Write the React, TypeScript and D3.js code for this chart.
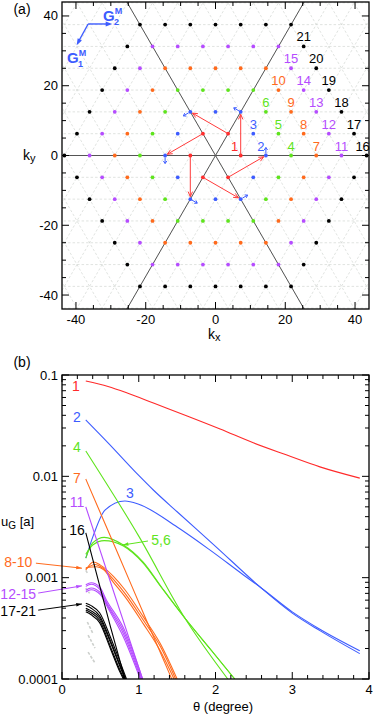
import * as d3 from 'd3'

const FONT = "'Liberation Sans', Arial, Helvetica, sans-serif"

/* panel (a): reciprocal lattice */
const LATTICE_A = 7.22
const RING_COLORS = ["#ff2a2a", "#3d5cff", "#5ee41c", "#ff6a1c", "#b54cff", "#000000"]
const K_MAJOR = [-40, -20, 0, 20, 40]
// [n, m, label, dx] in lattice units, x = (n + m/2) a, y = m a sqrt(3)/2
const POINT_LABELS: [number, number, string, number][] = [
  [1, 0, "1", -6], [2, 0, "2", -5], [1, 1, "3", 0], [3, 0, "4", 0], [2, 1, "5", 0], [1, 2, "6", 0],
  [4, 0, "7", 0], [3, 1, "8", 0], [2, 2, "9", 0], [1, 3, "10", 0], [5, 0, "11", 0], [4, 1, "12", 0],
  [3, 2, "13", 0], [2, 3, "14", 0], [1, 4, "15", 0], [6, 0, "16", -4], [5, 1, "17", 0], [4, 2, "18", 0],
  [3, 3, "19", 0], [2, 4, "20", 0], [1, 5, "21", 0],
]
// red arrows: from lattice point (n1,m1) to (n2,m2)
const RED_ARROWS = [
  [1, 0, 0, 2], [0, 1, -2, 2], [-1, 1, -2, 0], [-1, 0, 0, -2], [0, -1, 2, -2], [1, -1, 2, 0],
]
// small blue arrows at lattice point (n,m) with direction in degrees
const BLUE_ARROWS = [
  [2, 0, 90], [0, 2, 150], [-2, 2, 210], [-2, 0, 270], [0, -2, 330], [2, -2, 30],
]
const G_ORIGIN = [-36.5, 37.7]
const G2_TIP = [-29.6, 37.7]
const G1_TIP = [-39.8, 31.6]

/* panel (b): u_G vs theta */
const THETA_MAJOR = [0, 1, 2, 3, 4]
const U_MAJOR = [0.1, 0.01, 0.001, 0.0001]
const U_LABELS = ["0.1", "0.01", "0.001", "0.0001"]

const U1 = [[0.31, 0.0873], [0.6, 0.077], [0.85, 0.0664], [1.2, 0.0525], [1.63, 0.0394], [2.06, 0.0293], [2.5, 0.0213], [2.93, 0.0162], [3.36, 0.0124], [3.88, 0.0096]]
const U2 = [[0.31, 0.036], [0.6, 0.0214], [1.0, 0.0102], [1.19, 0.00733], [1.5, 0.00447], [2.0, 0.00204], [2.58, 0.00081], [3.0, 0.000447], [3.36, 0.0003], [3.88, 0.000178]]
const U3 = [[0.31, 0.00156], [0.41, 0.00263], [0.56, 0.00464], [0.82, 0.0057], [1.0, 0.0053], [1.5, 0.00316], [1.93, 0.00187], [2.36, 0.00107], [2.58, 0.00081], [3.0, 0.00046], [3.36, 0.00031], [3.88, 0.00019]]
const U4 = [[0.31, 0.0178], [1.0, 0.00257], [1.6, 0.0004], [2.16, 0.0001]]
const U5 = [[0.31, 0.00156], [0.4, 0.0022], [0.55, 0.0025], [0.8, 0.0021], [1.055, 0.00143], [1.3, 0.0008], [1.6, 0.0004], [1.95, 0.00019], [2.25, 0.0001]]
const U6 = [[0.31, 0.0017], [0.4, 0.0021], [0.55, 0.00232], [0.8, 0.00205], [1.055, 0.0014], [1.3, 0.00079], [1.6, 0.0004], [1.95, 0.00019], [2.25, 0.0001]]
const U7 = [[0.31, 0.0094], [0.7, 0.00194], [1.1, 0.00038], [1.43, 0.0001]]
const U8 = [[0.31, 0.00119], [0.41, 0.00143], [0.5, 0.00133], [0.67, 0.00103], [0.82, 0.00076], [1.06, 0.00041], [1.28, 0.000224], [1.5, 0.0001]]
const U9 = [[0.31, 0.00122], [0.43, 0.00135], [0.52, 0.00126], [0.67, 0.00096], [0.82, 0.0007], [1.06, 0.00038], [1.28, 0.00021], [1.48, 0.0001]]
const U10 = [[0.31, 0.00125], [0.45, 0.00128], [0.54, 0.0012], [0.67, 0.0009], [0.82, 0.00065], [1.06, 0.00035], [1.28, 0.00019], [1.46, 0.0001]]
const U11 = [[0.31, 0.005], [0.7, 0.00063], [1.05, 0.0001]]
const U12 = [[0.31, 0.00085], [0.38, 0.00089], [0.49, 0.00081], [0.58, 0.0006], [0.8, 0.00032], [1.05, 0.0001]]
const U13 = [[0.31, 0.00082], [0.38, 0.00086], [0.49, 0.00077], [0.58, 0.00057], [0.8, 0.0003], [1.04, 0.0001]]
const U14 = [[0.31, 0.00075], [0.38, 0.00079], [0.5, 0.00071], [0.6, 0.00052], [0.8, 0.00028], [1.03, 0.0001]]
const U15 = [[0.31, 0.00072], [0.38, 0.00076], [0.5, 0.00068], [0.6, 0.0005], [0.8, 0.00026], [1.02, 0.0001]]
const U16 = [[0.31, 0.00277], [0.63, 0.00033], [0.82, 0.0001]]
const U17 = [[0.31, 0.00056], [0.38, 0.00053], [0.49, 0.00045], [0.63, 0.00026], [0.76, 0.000145], [0.84, 0.0001]]
const U18 = [[0.31, 0.00053], [0.38, 0.0005], [0.49, 0.00042], [0.63, 0.00024], [0.76, 0.000135], [0.83, 0.0001]]
const U19 = [[0.31, 0.0005], [0.38, 0.00047], [0.49, 0.0004], [0.63, 0.00023], [0.76, 0.00013], [0.82, 0.0001]]
const U20 = [[0.31, 0.00048], [0.38, 0.00045], [0.49, 0.00038], [0.63, 0.00021], [0.76, 0.00012], [0.81, 0.0001]]
const U21 = [[0.31, 0.00046], [0.38, 0.00043], [0.49, 0.00036], [0.63, 0.0002], [0.76, 0.000115], [0.8, 0.0001]]
const GRAY = [
  [[0.31, 0.00118], [0.34, 0.00108]],
  [[0.31, 0.00079], [0.36, 0.0007]],
  [[0.32, 0.0005], [0.35, 0.00046]],
  [[0.33, 0.000365], [0.4, 0.000284]],
  [[0.34, 0.000271], [0.43, 0.000202]],
  [[0.34, 0.000184], [0.43, 0.000144]],
]
const CURVES: [number[][], number][] = [
  [U1, 0], [U2, 1], [U3, 1], [U4, 2], [U5, 2], [U6, 2], [U7, 3], [U8, 3], [U9, 3], [U10, 3],
  [U11, 4], [U12, 4], [U13, 4], [U14, 4], [U15, 4], [U16, 5], [U17, 5], [U18, 5], [U19, 5], [U20, 5], [U21, 5],
]
// [text, theta, u, ring]
const CURVE_LABELS: [string, number, number, number][] = [
  ["1", 0.18, 0.0778, 0], ["2", 0.195, 0.0385, 1], ["4", 0.195, 0.0195, 2], ["7", 0.195, 0.0096, 3],
  ["11", 0.195, 0.00557, 4], ["16", 0.195, 0.00295, 5], ["3", 0.886, 0.00684, 1], ["5,6", 1.29, 0.00235, 2],
  ["8-10", -0.57, 0.00143, 3], ["12-15", -0.57, 0.00069, 4], ["17-21", -0.57, 0.000468, 5],
]
// [theta1, u1, theta2, u2, ring]
const LABEL_ARROWS: [number, number, number, number, number][] = [
  [1.12, 0.0023, 0.79, 0.0021, 2],
  [-0.34, 0.00139, 0.26, 0.00124, 3],
  [-0.31, 0.000705, 0.26, 0.00083, 4],
  [-0.31, 0.000478, 0.26, 0.00055, 5],
]

function arrowPath(x1: number, y1: number, x2: number, y2: number, len = 5, spread = 0.45) {
  const ang = Math.atan2(y2 - y1, x2 - x1)
  const a1 = ang + Math.PI - spread, a2 = ang + Math.PI + spread
  return `M${x1},${y1}L${x2},${y2}M${x2 + len * Math.cos(a1)},${y2 + len * Math.sin(a1)}L${x2},${y2}L${x2 + len * Math.cos(a2)},${y2 + len * Math.sin(a2)}`
}
function headPath(x1: number, y1: number, x2: number, y2: number, len = 7, spread = 0.35) {
  const ang = Math.atan2(y2 - y1, x2 - x1)
  const a1 = ang + Math.PI - spread, a2 = ang + Math.PI + spread
  return `M${x2},${y2}L${x2 + len * Math.cos(a1)},${y2 + len * Math.sin(a1)}L${x2 + len * Math.cos(a2)},${y2 + len * Math.sin(a2)}Z`
}

export default function App() {
  const xa = d3.scaleLinear().domain([-44, 44]).range([62, 369])
  const ya = d3.scaleLinear().domain([-44, 44]).range([309, 2])
  const xb = d3.scaleLinear().domain([0, 4]).range([62, 369])
  const yb = d3.scaleLog().domain([1e-4, 0.1]).range([679, 375])
  const hRow = LATTICE_A * Math.sqrt(3) / 2
  const lx = (n: number, m: number) => xa((n + m / 2) * LATTICE_A)
  const ly = (n: number, m: number) => ya(m * hRow)

  /* lattice points up to ring 6 */
  const dots: { x: number, y: number, c: string }[] = []
  for (let m = -6; m <= 6; m++) {
    for (let n = -12; n <= 12; n++) {
      const ring = (Math.abs(n) + Math.abs(m) + Math.abs(n + m)) / 2
      if (ring >= 1 && ring <= 6) dots.push({ x: lx(n, m), y: ly(n, m), c: RING_COLORS[ring - 1] })
    }
  }
  /* dashed triangular grid */
  const grid: string[] = []
  for (let m = -8; m <= 8; m++) grid.push(`M${xa(-50)},${ya(m * hRow)}H${xa(50)}`)
  for (let n = -16; n <= 16; n++) {
    const x0 = n * LATTICE_A
    grid.push(`M${xa(x0 - 30)},${ya(-30 * Math.sqrt(3))}L${xa(x0 + 30)},${ya(30 * Math.sqrt(3))}`)
    grid.push(`M${xa(x0 + 30)},${ya(-30 * Math.sqrt(3))}L${xa(x0 - 30)},${ya(30 * Math.sqrt(3))}`)
  }
  const line = d3.line<number[]>().x(d => xb(d[0])).y(d => yb(d[1])).curve(d3.curveMonotoneX)
  const segLine = d3.line<number[]>().x(d => xb(d[0])).y(d => yb(d[1]))

  const tickA = d3.range(-40, 41, 5)
  const tickBx = d3.range(0, 4.01, 0.2)
  const tickBy = yb.ticks()
  const isMajorLog = (v: number) => Math.abs(Math.log10(v) - Math.round(Math.log10(v))) < 1e-6

  return (
    <svg width={374} height={717} style={{ position: 'absolute', left: 0, top: 0, background: '#fff' }} fontFamily={FONT}>
      <defs>
        <clipPath id="clipA"><rect x={62} y={2} width={307} height={307} /></clipPath>
        <clipPath id="clipB"><rect x={62} y={375} width={307} height={304} /></clipPath>
      </defs>

      {/* ---------- panel (a) ---------- */}
      <text x={22} y={14} fontSize={14} textAnchor="middle">(a)</text>
      <g clipPath="url(#clipA)">
        <path d={grid.join('')} stroke="#d3d7d3" strokeWidth={0.7} strokeDasharray="2.5,2" fill="none" />
        <path d={`M${xa(-50)},${ya(0)}H${xa(50)}`} stroke="#555" strokeWidth={1} />
        <path d={`M${xa(-30)},${ya(-30 * Math.sqrt(3))}L${xa(30)},${ya(30 * Math.sqrt(3))}`} stroke="#555" strokeWidth={1} />
        <path d={`M${xa(30)},${ya(-30 * Math.sqrt(3))}L${xa(-30)},${ya(30 * Math.sqrt(3))}`} stroke="#555" strokeWidth={1} />
        {dots.map((d, i) => <circle key={i} cx={d.x} cy={d.y} r={1.9} fill={d.c} />)}
        {RED_ARROWS.map(([n1, m1, n2, m2], i) => {
          const x1 = lx(n1, m1), y1 = ly(n1, m1), x2 = lx(n2, m2), y2 = ly(n2, m2)
          const L = Math.hypot(x2 - x1, y2 - y1)
          const ex = x2 - (x2 - x1) / L * 2.5, ey = y2 - (y2 - y1) / L * 2.5
          return <path key={i} d={arrowPath(x1, y1, ex, ey, 5.5, 0.42)} stroke="#ff3b3b" strokeWidth={1} fill="none" />
        })}
        {BLUE_ARROWS.map(([n, m, deg], i) => {
          const x = lx(n, m), y = ly(n, m), r = deg * Math.PI / 180
          return <path key={i} d={arrowPath(x + 2 * Math.cos(r), y - 2 * Math.sin(r), x + 8 * Math.cos(r), y - 8 * Math.sin(r), 3, 0.6)}
            stroke="#3d5cff" strokeWidth={1} fill="none" />
        })}
      </g>
      {POINT_LABELS.map(([n, m, t, dx], i) => {
        const ring = (Math.abs(n) + Math.abs(m) + Math.abs(n + m)) / 2
        return <text key={i} x={lx(n, m) + dx} y={ly(n, m) - 5} fontSize={13} textAnchor="middle" fill={RING_COLORS[ring - 1]}>{t}</text>
      })}
      {/* G vectors */}
      <path d={`M${xa(G_ORIGIN[0])},${ya(G_ORIGIN[1])}L${xa(G2_TIP[0]) - 4},${ya(G2_TIP[1])}`} stroke="#3d5cff" strokeWidth={1.4} />
      <path d={headPath(xa(G_ORIGIN[0]), ya(G_ORIGIN[1]), xa(G2_TIP[0]), ya(G2_TIP[1]))} fill="#3d5cff" />
      <path d={`M${xa(G_ORIGIN[0])},${ya(G_ORIGIN[1])}L${xa(G1_TIP[0]) + 2},${ya(G1_TIP[1]) - 4}`} stroke="#3d5cff" strokeWidth={1.4} />
      <path d={headPath(xa(G_ORIGIN[0]), ya(G_ORIGIN[1]), xa(G1_TIP[0]), ya(G1_TIP[1]))} fill="#3d5cff" />
      <text x={103} y={21} fontSize={15} fontWeight="bold" fill="#3d5cff">G<tspan fontSize={9} dy={-7}>M</tspan><tspan fontSize={9} x={114} dy={11}>2</tspan></text>
      <text x={67} y={63} fontSize={15} fontWeight="bold" fill="#3d5cff">G<tspan fontSize={9} dy={-7}>M</tspan><tspan fontSize={9} x={78} dy={11}>1</tspan></text>

      {/* axes (a) */}
      <rect x={62} y={2} width={307} height={307} fill="none" stroke="#000" strokeWidth={1.3} />
      {tickA.map(v => {
        const L = K_MAJOR.includes(v) ? 7 : 4
        return <g key={v} stroke="#000" strokeWidth={1}>
          <line x1={xa(v)} x2={xa(v)} y1={309} y2={309 - L} />
          <line x1={xa(v)} x2={xa(v)} y1={2} y2={2 + L} />
          <line x1={62} x2={62 + L} y1={ya(v)} y2={ya(v)} />
          <line x1={369} x2={369 - L} y1={ya(v)} y2={ya(v)} />
        </g>
      })}
      {K_MAJOR.map(v => <text key={'x' + v} x={xa(v)} y={324} fontSize={13} textAnchor="middle">{v}</text>)}
      {K_MAJOR.map(v => <text key={'y' + v} x={58} y={ya(v) + 4.5} fontSize={13} textAnchor="end">{v}</text>)}
      <text x={208} y={339} fontSize={14}>k<tspan fontSize={11} dy={2}>x</tspan></text>
      <text x={23} y={160} fontSize={14}>k<tspan fontSize={11} dy={2}>y</tspan></text>

      {/* ---------- panel (b) ---------- */}
      <text x={22} y={367} fontSize={14} textAnchor="middle">(b)</text>
      <g clipPath="url(#clipB)">
        {GRAY.map((g, i) => <path key={i} d={segLine(g) || ''} stroke="#cdd0cd" strokeWidth={1.6} strokeDasharray="3,1.5" fill="none" />)}
        {CURVES.map(([pts, ring], i) => <path key={i} d={line(pts) || ''} stroke={RING_COLORS[ring]} strokeWidth={1.1} fill="none" />)}
      </g>
      {CURVE_LABELS.map(([t, th, u, ring], i) => (
        <text key={i} x={xb(th)} y={yb(u)} dy="0.35em" fontSize={14} textAnchor="middle" fill={RING_COLORS[ring]}>{t}</text>
      ))}
      {LABEL_ARROWS.map(([t1, u1, t2, u2, ring], i) => (
        <g key={i}>
          <path d={`M${xb(t1)},${yb(u1)}L${xb(t2)},${yb(u2)}`} stroke={RING_COLORS[ring]} strokeWidth={1} />
          <path d={headPath(xb(t1), yb(u1), xb(t2), yb(u2), 6, 0.3)} fill={RING_COLORS[ring]} />
        </g>
      ))}
      <rect x={62} y={375} width={307} height={304} fill="none" stroke="#000" strokeWidth={1.3} />
      {tickBx.map((v, i) => {
        const L = i % 5 === 0 ? 7 : 4
        return <g key={i} stroke="#000" strokeWidth={1}>
          <line x1={xb(v)} x2={xb(v)} y1={679} y2={679 - L} />
          <line x1={xb(v)} x2={xb(v)} y1={375} y2={375 + L} />
        </g>
      })}
      {tickBy.map((v, i) => {
        const L = isMajorLog(v) ? 7 : 4
        return <g key={i} stroke="#000" strokeWidth={1}>
          <line x1={62} x2={62 + L} y1={yb(v)} y2={yb(v)} />
          <line x1={369} x2={369 - L} y1={yb(v)} y2={yb(v)} />
        </g>
      })}
      {THETA_MAJOR.map(v => <text key={v} x={xb(v)} y={694} fontSize={13} textAnchor="middle">{v}</text>)}
      {U_MAJOR.map((v, i) => <text key={i} x={58} y={yb(v) + 4.5} fontSize={13} textAnchor="end">{U_LABELS[i]}</text>)}
      <text x={223} y={711} fontSize={13} textAnchor="middle">θ (degree)</text>
      <text x={1} y={526} fontSize={13}>u<tspan fontSize={10} dy={3}>G</tspan><tspan dy={-3}> [a]</tspan></text>
    </svg>
  )
}
